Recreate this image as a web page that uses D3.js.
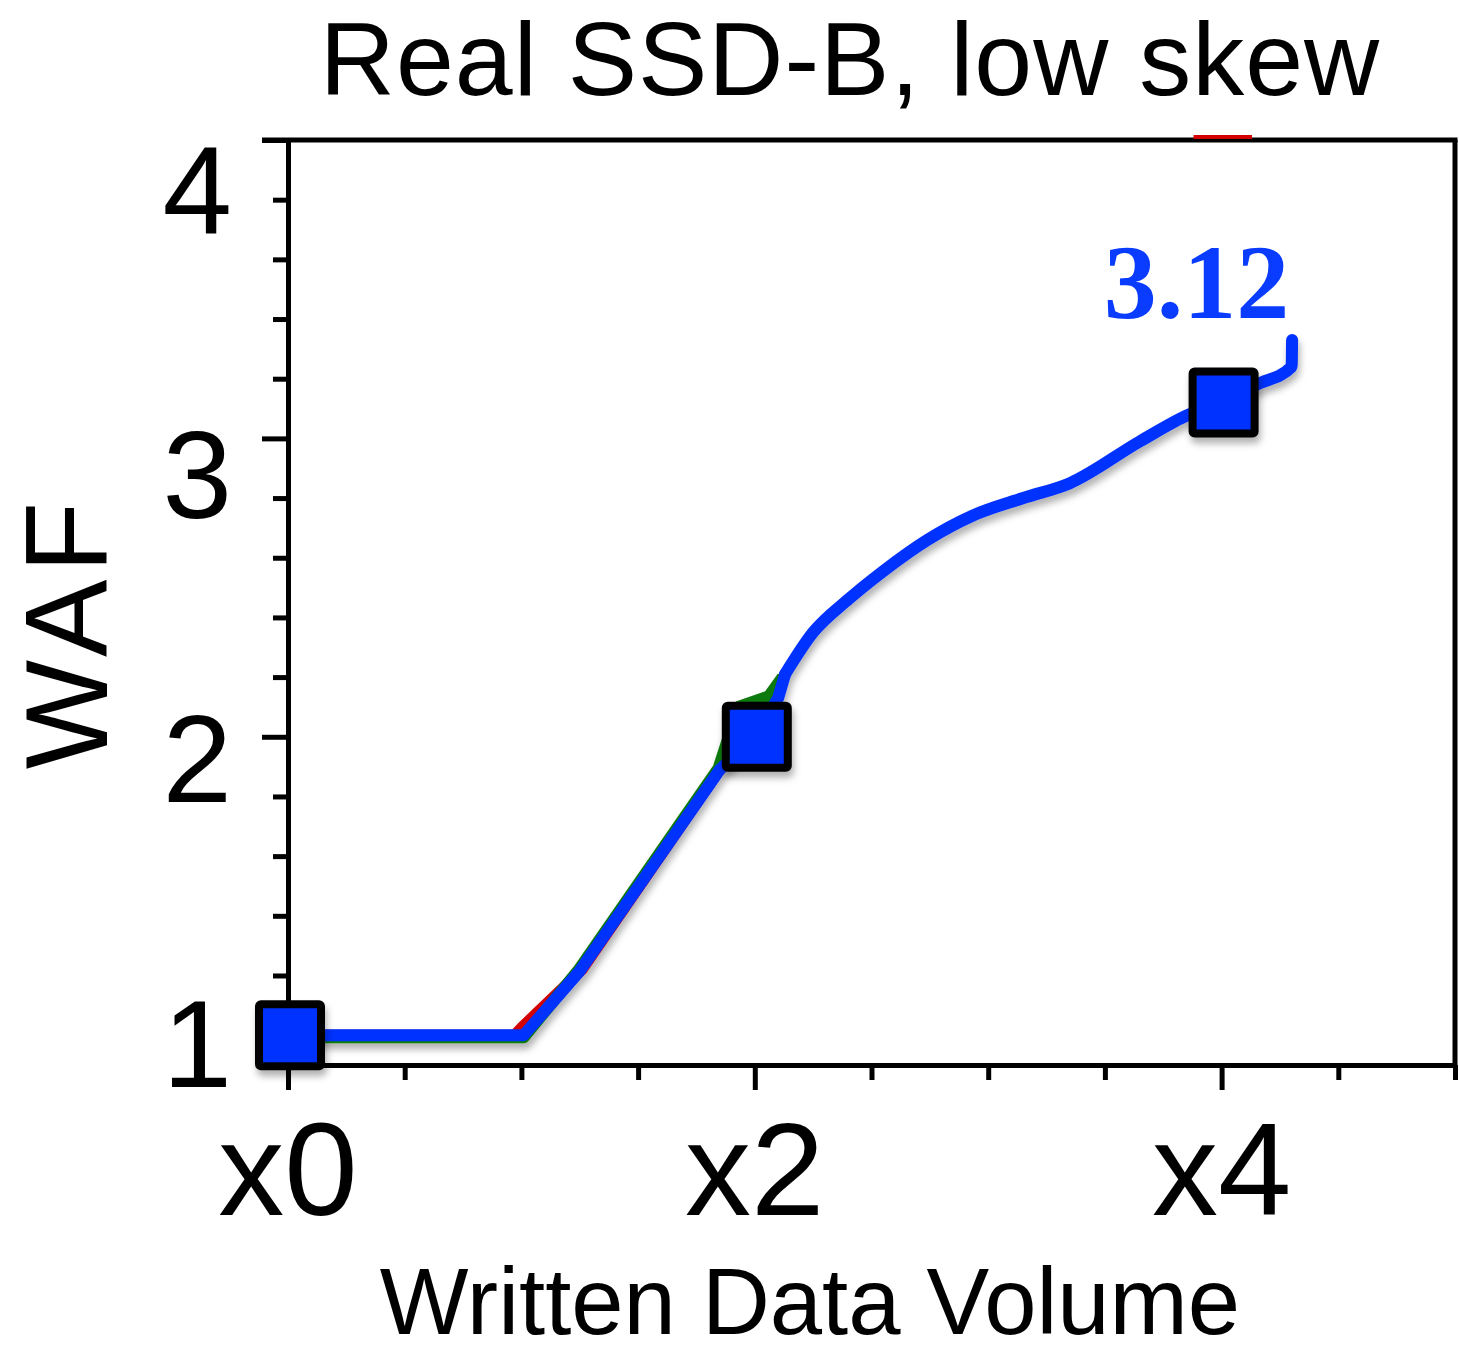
<!DOCTYPE html>
<html>
<head>
<meta charset="utf-8">
<script src="https://cdn.jsdelivr.net/npm/d3@7"></script>
<style>
  html, body { margin: 0; padding: 0; background: #fff; }
  svg { display: block; }
</style>
</head>
<body>
<svg id="chart" width="1459" height="1355"></svg>
<script>
// Write amplification factor over written data volume (x multiples of drive capacity)
const title = "Real SSD-B, low skew";
const xLabel = "Written Data Volume";
const yLabel = "WAF";

const xMajorTicks = [0, 2, 4];
const xTickLabels = ["x0", "x2", "x4"];
const xMinorTicks = [0.5, 1, 1.5, 2.5, 3, 3.5, 4.5, 5];
const yMajorTicks = [1, 2, 3, 4];
const yTickLabels = ["1", "2", "3", "4"];
const yMinorTicks = [1.2, 1.4, 1.6, 1.8, 2.2, 2.4, 2.6, 2.8, 3.2, 3.4, 3.6, 3.8];

// Series: [written volume, WAF]
const redSeries = [[0, 1.0], [0.97, 1.0], [1.0, 1.025], [1.06, 1.07], [1.26, 1.22], [1.85, 1.89]];
const redTail = [[3.88, 4.01], [4.13, 4.01]];
const greenSeries = [[0, 0.993], [1.01, 0.993], [1.245, 1.218], [1.845, 1.895], [1.93, 2.1],
                     [2.06, 2.135], [2.12, 2.2]];
const blueSeries = [[0, 1.0], [1.01, 1.0], [1.25, 1.215], [1.85, 1.89], [2.0, 2.0],
                    [2.1, 2.13], [2.13, 2.21], [2.25, 2.35], [2.4, 2.46], [2.55, 2.555],
                    [2.74, 2.66], [2.93, 2.74], [3.15, 2.8], [3.35, 2.85], [3.65, 2.99],
                    [3.86, 3.08], [4.0, 3.12], [4.15, 3.18], [4.3, 3.24], [4.302, 3.33]];
const markerPoints = [[0, 1.0], [2, 2.0], [4, 3.12]];
const finalLabel = "3.12";

const svg = d3.select("#chart");
const x = d3.scaleLinear().domain([0, 5]).range([288, 1455]);
const y = d3.scaleLinear().domain([0.9, 4.0]).range([1065, 140]);
// Tick labels sit on their own vertical spacing beside the ticks
const yText = d3.scaleLinear().domain([1, 4]).range([1087, 233]);

const defs = svg.append("defs");
const shadow = defs.append("filter").attr("id", "soft-shadow")
  .attr("x", "-10%").attr("y", "-10%").attr("width", "120%").attr("height", "130%");
shadow.append("feDropShadow").attr("dx", 2).attr("dy", 6)
  .attr("stdDeviation", 3.5).attr("flood-color", "#000").attr("flood-opacity", 0.3);

const font = "'Liberation Sans', Arial, Helvetica, sans-serif";

// Title
svg.append("text").attr("x", 850).attr("y", 95)
  .attr("text-anchor", "middle").attr("font-family", font).attr("font-size", 104)
  .attr("letter-spacing", 1).attr("fill", "#000").text(title);

// Axes
function styleAxis(g) {
  g.selectAll("path.domain").attr("stroke", "#000").attr("stroke-width", 5);
  g.selectAll(".tick line").attr("stroke", "#000").attr("stroke-width", 5);
  g.selectAll(".tick text").remove();
}

svg.append("g").attr("transform", `translate(${x(0)},0)`)
  .call(d3.axisLeft(y).tickValues(yMajorTicks).tickSize(26).tickSizeOuter(0).tickFormat(""))
  .call(styleAxis);
svg.append("g").attr("transform", `translate(${x(0)},0)`)
  .call(d3.axisLeft(y).tickValues(yMinorTicks).tickSize(15).tickSizeOuter(0).tickFormat(""))
  .call(styleAxis);
svg.append("g").attr("transform", `translate(0,${y(0.9)})`)
  .call(d3.axisBottom(x).tickValues(xMajorTicks).tickSize(25).tickSizeOuter(0).tickFormat(""))
  .call(styleAxis);
svg.append("g").attr("transform", `translate(0,${y(0.9)})`)
  .call(d3.axisBottom(x).tickValues(xMinorTicks).tickSize(15).tickSizeOuter(0).tickFormat(""))
  .call(styleAxis);

// Top and right frame lines
svg.append("line").attr("x1", x(0) - 26).attr("x2", x(5) + 2.5)
  .attr("y1", y(4)).attr("y2", y(4)).attr("stroke", "#000").attr("stroke-width", 5);
svg.append("line").attr("x1", x(5)).attr("x2", x(5))
  .attr("y1", y(4)).attr("y2", y(0.9)).attr("stroke", "#000").attr("stroke-width", 5);

// Tick labels
svg.append("g").selectAll("text").data(yMajorTicks).join("text")
  .attr("x", 232).attr("y", d => yText(d))
  .attr("text-anchor", "end").attr("font-family", font).attr("font-size", 125)
  .text((d, i) => yTickLabels[i]);
svg.append("g").selectAll("text").data(xMajorTicks).join("text")
  .attr("x", d => x(d)).attr("y", 1215)
  .attr("text-anchor", "middle").attr("font-family", font).attr("font-size", 132)
  .text((d, i) => xTickLabels[i]);

// Axis titles
svg.append("text").attr("x", 810).attr("y", 1334)
  .attr("text-anchor", "middle").attr("font-family", font).attr("font-size", 94)
  .text(xLabel);
svg.append("text").attr("transform", "translate(107,632) rotate(-90)")
  .attr("text-anchor", "middle").attr("font-family", font).attr("font-size", 116)
  .attr("letter-spacing", 7).text(yLabel);

// Lines: straight segments through the early ramp, smoothed once the curve bends over
const straight = d3.line().x(d => x(d[0])).y(d => y(d[1])).curve(d3.curveLinear);
const smooth = d3.line().x(d => x(d[0])).y(d => y(d[1])).curve(d3.curveMonotoneX);
const bend = blueSeries.findIndex(d => d[0] >= 2.13);

const lines = svg.append("g").attr("filter", "url(#soft-shadow)");
lines.append("path").datum(redSeries).attr("d", straight)
  .attr("fill", "none").attr("stroke", "#d40000").attr("stroke-width", 11)
  .attr("stroke-linejoin", "round");
lines.append("path").datum(greenSeries).attr("d", straight)
  .attr("fill", "none").attr("stroke", "#087a08").attr("stroke-width", 12)
  .attr("stroke-linejoin", "round");
lines.append("path").datum(blueSeries.slice(0, bend + 1)).attr("d", straight)
  .attr("fill", "none").attr("stroke", "#0530ff").attr("stroke-width", 12)
  .attr("stroke-linejoin", "round").attr("stroke-linecap", "round");
lines.append("path").datum(blueSeries.slice(bend)).attr("d", smooth)
  .attr("fill", "none").attr("stroke", "#0530ff").attr("stroke-width", 12)
  .attr("stroke-linejoin", "round").attr("stroke-linecap", "round");
svg.append("path").datum(redTail).attr("d", straight)
  .attr("fill", "none").attr("stroke", "#d40000").attr("stroke-width", 4);

// Square markers
const size = 62;
svg.append("g").attr("filter", "url(#soft-shadow)")
  .selectAll("rect").data(markerPoints).join("rect")
  .attr("x", d => x(d[0]) + 2 - size / 2).attr("y", d => y(d[1]) - size / 2)
  .attr("width", size).attr("height", size).attr("rx", 2)
  .attr("fill", "#0530ff").attr("stroke", "#000").attr("stroke-width", 8);

// Value annotation for the last marker
const last = markerPoints[markerPoints.length - 1];
svg.append("text").attr("x", x(last[0]) - 25).attr("y", y(last[1]) - 85)
  .attr("text-anchor", "middle")
  .attr("font-family", "'Liberation Serif', 'Times New Roman', serif")
  .attr("font-weight", "bold").attr("font-size", 106).attr("fill", "#0a3cff")
  .text(finalLabel);
</script>
</body>
</html>
